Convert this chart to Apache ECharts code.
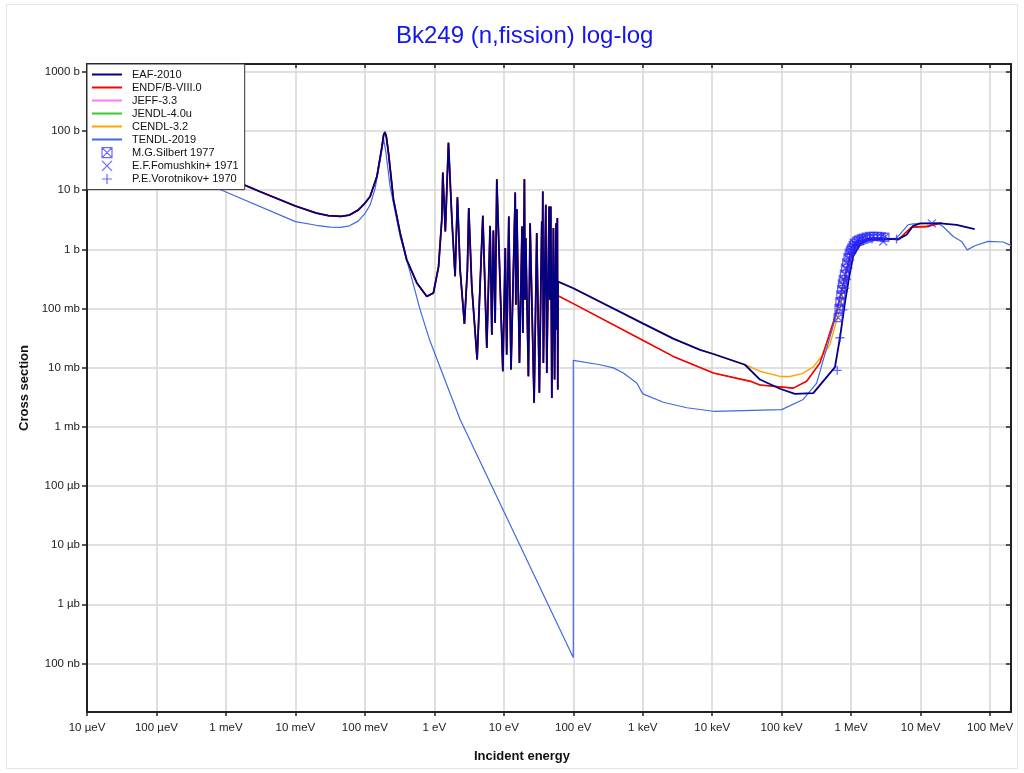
<!DOCTYPE html>
<html>
<head>
<meta charset="utf-8">
<script src="https://cdn.jsdelivr.net/npm/echarts@6/dist/echarts.min.js"></script>
<style>
html,body{margin:0;padding:0;background:#fff;}
#chart{width:1024px;height:773px;}
</style>
</head>
<body>
<div id="chart"></div>
<script>
// ---- tick labels ----
const xTickValues = [1e-5,1e-4,1e-3,1e-2,1e-1,1,10,100,1e3,1e4,1e5,1e6,1e7,1e8];
const xTickLabels = ['10 µeV','100 µeV','1 meV','10 meV','100 meV','1 eV','10 eV','100 eV','1 keV','10 keV','100 keV','1 MeV','10 MeV','100 MeV'];
const yTickValues = [1e3,1e2,10,1,1e-1,1e-2,1e-3,1e-4,1e-5,1e-6,1e-7];
const yTickLabels = ['1000 b','100 b','10 b','1 b','100 mb','10 mb','1 mb','100 µb','10 µb','1 µb','100 nb'];

// ---- evaluated data: [energy eV, cross section b] ----
// thermal + resolved resonance region shared by the evaluations
const resolvedCommon = [
 [1e-5,166],[1e-4,52.5],[1e-3,16.6],[3e-3,9.6],[0.01,5.4],[0.02,4.1],[0.03,3.7],[0.045,3.6],[0.06,3.8],
 [0.08,4.6],[0.1,6.0],[0.119,7.8],[0.149,17],[0.176,54],[0.186,85],[0.194,96],[0.203,82],[0.219,42],
 [0.258,6.9],[0.322,1.88],[0.40,0.667],[0.56,0.27],[0.78,0.16],[0.97,0.183],[1.15,0.51],[1.28,3.16],
 [1.324,19.8],[1.44,2.0],[1.596,63.5],[1.79,3.16],[1.99,0.35],[2.15,7.6],[2.35,0.45],[2.71,0.055],
 [2.99,0.45],[3.13,5.0],[3.46,0.236],[4.13,0.0137],[4.99,3.68],[5.69,0.0215],[6.35,2.49],[6.72,0.0361],
 [7.08,2.08],[7.50,0.0569],[7.93,15.3],[9.68,0.00867],[10.5,1.05],[11.0,0.0166],[11.8,3.58],[12.7,0.00927],
 [14.6,9.11],[14.9,0.116],[15.4,4.78],[16.8,0.0120],[18.3,2.43],[18.8,0.0386],[19.8,15.3],[20.2,0.141],
 [20.7,1.55],[22.6,0.00714],[23.9,2.77],[27.3,0.00254],[29.8,1.88],[32.5,0.00375],[35.2,2.95],[35.8,0.306],
 [36.4,9.47],[37.1,0.0120],[40.2,5.65],[41.6,0.00815],[44.9,5.28],[46.0,0.141],[47.4,5.28],[49.1,0.00308],
 [51.8,2.29],[53.8,0.00628],[56.6,2.77],[57.9,0.0438],[59.0,3.37],[59.8,0.00427]
];
const eafHigh = [
 [60.4,0.285],[100,0.22],[1000,0.056],[2750,0.031],[6700,0.020],[10400,0.017],[29600,0.0112],[48700,0.0063],
 [94600,0.0044],[155000,0.0036],[285000,0.0037],[585000,0.0102],[690000,0.032],[813000,0.124],[940000,0.35],
 [1.07e6,0.76],[1.34e6,1.23],[1.86e6,1.49],[2.6e6,1.51],[4.76e6,1.49],[6.3e6,1.76],[7.8e6,2.5],[9.8e6,2.74],
 [1.93e7,2.74],[3.3e7,2.6],[6.0e7,2.19]
];
const endfHigh = [
 [60.4,0.164],[100,0.121],[1000,0.029],[2750,0.0155],[10400,0.0081],[37000,0.0058],[48700,0.0051],
 [147000,0.0045],[229000,0.0059],[355000,0.012],[444000,0.026],[585000,0.072],[690000,0.15],[813000,0.35],
 [961000,0.78],[1.2e6,1.2],[1.67e6,1.5],[2.08e6,1.55],[4.0e6,1.49],[4.76e6,1.45],[7.4e6,2.37],[1.22e7,2.42],
 [1.93e7,2.77],[2.0e7,2.78]
];
const cendlHigh = [
 [60.4,0.285],[100,0.22],[1000,0.056],[2750,0.031],[6700,0.020],[10400,0.017],[29600,0.0112],[48700,0.0087],
 [95000,0.0071],[132000,0.0071],[200000,0.0080],[285000,0.0103],[444000,0.020],[496000,0.025],[617000,0.062],
 [692000,0.10],[813000,0.30],[961000,0.70],[1.2e6,1.15],[1.67e6,1.45],[2.08e6,1.55],[4.0e6,1.49],[4.76e6,1.47],
 [7.4e6,2.37],[1.22e7,2.5],[2.0e7,2.85]
];
const tendl = [
 [1e-5,93],[1e-4,29.4],[1e-3,9.3],[0.01,2.94],[0.02,2.55],[0.032,2.37],[0.045,2.35],[0.06,2.5],[0.08,3.0],
 [0.1,4.0],[0.119,5.65],[0.14,10.5],[0.166,32],[0.186,73],[0.2,45],[0.231,11.5],[0.322,1.65],[0.45,0.40],
 [0.625,0.095],[0.85,0.030],[2.35,0.00133],[100,1.26e-7],[100,0.0133],[243,0.0112],[378,0.0099],[525,0.0081],
 [820,0.0055],[1000,0.0036],[1980,0.0026],[4300,0.0021],[10400,0.00183],[100000,0.00195],[204000,0.0029],
 [319000,0.0055],[355000,0.0085],[400000,0.014],[468000,0.026],[550000,0.05],[617000,0.085],[730000,0.21],
 [962000,0.66],[1.34e6,1.15],[2.33e6,1.45],[4.5e6,1.55],[6.6e6,2.6],[7.8e6,2.7],[1.77e7,2.77],[2.1e7,2.43],
 [2.95e7,1.65],[3.89e7,1.36],[4.68e7,0.98],[6.05e7,1.15],[9.36e7,1.36],[1.54e8,1.33],[1.91e8,1.19],[2e8,1.15]
];
// ---- experimental data ----
const silbert1977 = [
 [6.5e5,0.07],[6.7e5,0.10],[6.9e5,0.13],[7.1e5,0.17],[7.3e5,0.21],[7.5e5,0.26],[7.7e5,0.31],[8.0e5,0.38],
 [8.3e5,0.48],[8.6e5,0.59],[9.0e5,0.72],[9.4e5,0.86],[9.8e5,0.96],[1.02e6,1.05],[1.07e6,1.15],[1.11e6,1.27],
 [1.2e6,1.37],[1.28e6,1.45],[1.4e6,1.50],[1.5e6,1.55],[1.65e6,1.60],[1.86e6,1.65],[2.1e6,1.65],[2.4e6,1.65],
 [2.7e6,1.63],[3.06e6,1.60]
];
const fomushkin1971 = [[1.15e6,1.25],[2.9e6,1.36],[1.45e7,2.75]];
const vorotnikov1970 = [
 [6.3e5,0.009],[6.9e5,0.032],[7.6e5,0.095],[8.1e5,0.22],[8.6e5,0.31],[9.1e5,0.48],[9.6e5,0.65],[1.02e6,0.85],
 [1.1e6,1.0],[1.25e6,1.2],[1.5e6,1.4],[2.0e6,1.5],[2.9e6,1.55],[4.5e6,1.5]
];

const FONT = '"Liberation Sans", Arial, sans-serif';
function tickFormatter(values, labels) {
  return function (v) {
    for (let i = 0; i < values.length; i++) {
      if (Math.abs(Math.log10(v) - Math.log10(values[i])) < 1e-6) return labels[i];
    }
    return '';
  };
}
const X_MIN = 1e-5, X_MAX = 2e8, Y_MIN = 1.51e-8, Y_MAX = 1358;
const axisLineStyle = {color:'#222', width:2};
const gridLine = {show:true, lineStyle:{color:'#d6d6d6', width:1.5}};
const markerColor = 'rgba(35,35,255,0.85)';
const hideSym = {opacity:0};

const chart = echarts.init(document.getElementById('chart'), null, {renderer:'canvas'});
const option = {
  animation:false,
  backgroundColor:'#fff',
  title:{text:'Bk249 (n,fission) log-log', left:391, top:19,
    textStyle:{color:'#1515ee', fontSize:24, fontWeight:'normal', fontFamily:FONT}},
  graphic:[{type:'rect', shape:{x:6.5,y:4.5,width:1011,height:764}, style:{fill:'none', stroke:'#e4e4e4', lineWidth:1}, silent:true, z:-1}],
  grid:{left:87, right:13, top:64, bottom:61, containLabel:false},
  legend:{
    orient:'vertical', left:87, top:64, padding:[5,6,5,4], itemWidth:30, itemHeight:10, itemGap:2,
    backgroundColor:'#fff', borderColor:'#333', borderWidth:1, z:20,
    textStyle:{fontSize:11, color:'#111', fontFamily:FONT, padding:[0,0,0,5]},
    lineStyle:{width:2},
    data:[
      {name:'EAF-2010', itemStyle:hideSym},
      {name:'ENDF/B-VIII.0', itemStyle:hideSym},
      {name:'JEFF-3.3', itemStyle:hideSym},
      {name:'JENDL-4.0u', itemStyle:hideSym},
      {name:'CENDL-3.2', itemStyle:hideSym},
      {name:'TENDL-2019', itemStyle:hideSym},
      {name:'M.G.Silbert 1977', itemStyle:{borderWidth:1.2}},
      {name:'E.F.Fomushkin+ 1971', itemStyle:{borderWidth:1.2}},
      {name:'P.E.Vorotnikov+ 1970', itemStyle:{borderWidth:1.2}}]
  },
  xAxis:[{
    type:'log', logBase:10, min:X_MIN, max:X_MAX, position:'bottom',
    name:'Incident energy', nameLocation:'middle', nameGap:38,
    nameTextStyle:{fontWeight:'bold', fontSize:13, color:'#111', fontFamily:FONT, padding:[0,54,0,0]},
    axisLine:{lineStyle:axisLineStyle},
    axisTick:{show:true, customValues:xTickValues, length:4, lineStyle:{color:'#222', width:1.5}},
    axisLabel:{customValues:xTickValues, formatter:tickFormatter(xTickValues,xTickLabels), fontSize:11.5, color:'#222', margin:10, fontFamily:FONT},
    splitLine:gridLine, minorTick:{show:false}, minorSplitLine:{show:false}
  },{
    type:'log', logBase:10, min:X_MIN, max:X_MAX, position:'top',
    axisLine:{lineStyle:axisLineStyle},
    axisTick:{show:true, inside:true, customValues:xTickValues, length:4, lineStyle:{color:'#222', width:1.5}},
    axisLabel:{show:false}, splitLine:{show:false}
  }],
  yAxis:[{
    type:'log', logBase:10, min:Y_MIN, max:Y_MAX, position:'left',
    name:'Cross section', nameLocation:'middle', nameGap:56,
    nameTextStyle:{fontWeight:'bold', fontSize:13, color:'#111', fontFamily:FONT},
    axisLine:{show:true, lineStyle:axisLineStyle},
    axisTick:{show:true, customValues:yTickValues, length:5, lineStyle:{color:'#222', width:1.5}},
    axisLabel:{customValues:yTickValues, formatter:tickFormatter(yTickValues,yTickLabels), fontSize:11.5, color:'#222', margin:7, fontFamily:FONT},
    splitLine:gridLine, minorTick:{show:false}, minorSplitLine:{show:false}
  },{
    type:'log', logBase:10, min:Y_MIN, max:Y_MAX, position:'right',
    axisLine:{show:true, lineStyle:axisLineStyle},
    axisTick:{show:true, inside:true, customValues:yTickValues, length:5, lineStyle:{color:'#222', width:1.5}},
    axisLabel:{show:false}, splitLine:{show:false}
  }],
  series:[
    {name:'EAF-2010', type:'line', data:resolvedCommon.concat(eafHigh), symbol:'none', z:5,
      lineStyle:{color:'#000080', width:1.8}, itemStyle:{color:'#000080'}},
    {name:'ENDF/B-VIII.0', type:'line', data:resolvedCommon.concat(endfHigh), symbol:'none', z:4,
      lineStyle:{color:'#ff0000', width:1.6}, itemStyle:{color:'#ff0000'}},
    {name:'JEFF-3.3', type:'line', data:resolvedCommon.concat(endfHigh), symbol:'none', z:2,
      lineStyle:{color:'#ff77ff', width:1}, itemStyle:{color:'#ff77ff'}},
    {name:'JENDL-4.0u', type:'line', data:resolvedCommon.concat(endfHigh), symbol:'none', z:2,
      lineStyle:{color:'#33cc33', width:1}, itemStyle:{color:'#33cc33'}},
    {name:'CENDL-3.2', type:'line', data:resolvedCommon.concat(cendlHigh), symbol:'none', z:3,
      lineStyle:{color:'#ffa500', width:1.4}, itemStyle:{color:'#ffa500'}},
    {name:'TENDL-2019', type:'line', data:tendl, symbol:'none', z:4,
      lineStyle:{color:'#4169e1', width:1.2}, itemStyle:{color:'#4169e1'}},
    {name:'M.G.Silbert 1977', type:'scatter', data:silbert1977, z:6,
      symbol:'path://M0,0H10V10H0ZM0,0L10,10M10,0L0,10', symbolSize:8,
      itemStyle:{color:'rgba(0,0,0,0)', borderColor:markerColor, borderWidth:1.3}},
    {name:'E.F.Fomushkin+ 1971', type:'scatter', data:fomushkin1971, z:6,
      symbol:'path://M0,0L10,10M10,0L0,10', symbolSize:8,
      itemStyle:{color:'rgba(0,0,0,0)', borderColor:markerColor, borderWidth:1.3}},
    {name:'P.E.Vorotnikov+ 1970', type:'scatter', data:vorotnikov1970, z:6,
      symbol:'path://M5,0V10M0,5H10', symbolSize:9,
      itemStyle:{color:'rgba(0,0,0,0)', borderColor:markerColor, borderWidth:1.3}}
  ]
};
chart.setOption(option);
</script>
</body>
</html>
